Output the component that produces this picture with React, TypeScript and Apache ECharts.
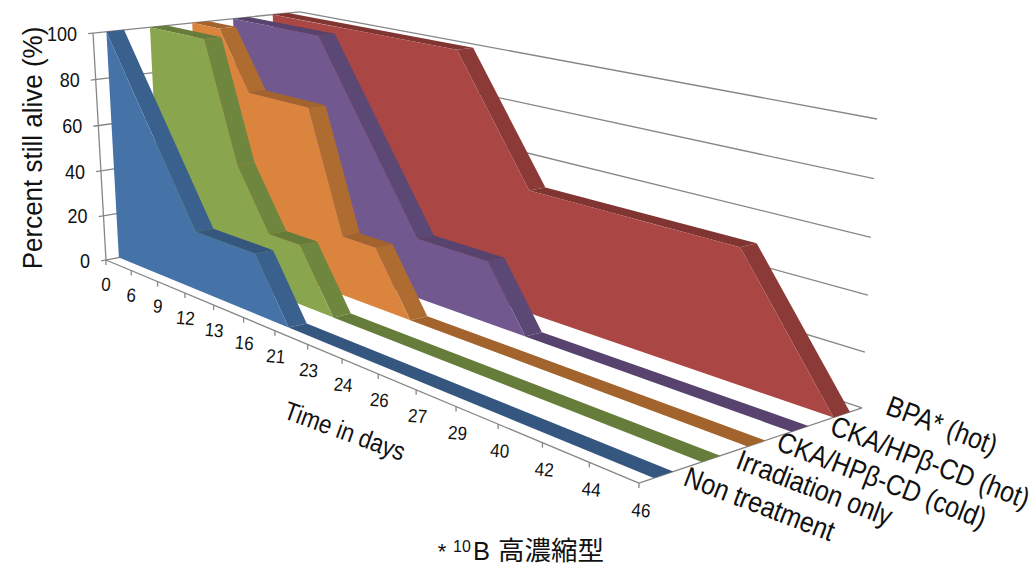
import React, { useEffect, useRef } from "react";
import * as echarts from "echarts";

const WIDTH = 1033;
const HEIGHT = 565;

const days = ["0", "6", "9", "12", "13", "16", "21", "23", "24", "26", "27", "29", "40", "42", "44", "46"];
const percentTicks = [0, 20, 40, 60, 80, 100];

const seriesNames = ["Non treatment", "Irradiation only", "CKA/HPβ-CD (cold)", "CKA/HPβ-CD (hot)", "BPA* (hot)"];
const nonTreatment = [100, 75, 50, 25, 25, 25, 0, 0, 0, 0, 0, 0, 0, 0, 0, 0];
const irradiationOnly = [100, 100, 100, 50, 25, 25, 0, 0, 0, 0, 0, 0, 0, 0, 0, 0];
const ckaCold = [100, 100, 75, 75, 75, 25, 25, 0, 0, 0, 0, 0, 0, 0, 0, 0];
const ckaHot = [100, 100, 100, 100, 75, 50, 25, 25, 25, 0, 0, 0, 0, 0, 0, 0];
const bpaHot = [100, 100, 100, 100, 100, 100, 100, 75, 50, 50, 50, 50, 50, 50, 25, 0];
const seriesValues = [nonTreatment, irradiationOnly, ckaCold, ckaHot, bpaHot];

// front face, sloping top face, level top face
const palette = [
  ["#4572A7", "#3A608D", "#34567F"],
  ["#89A54E", "#6F863F", "#667C3A"],
  ["#DB843D", "#AF6C31", "#A3632C"],
  ["#71588F", "#5C4875", "#57436D"],
  ["#AA4643", "#8C3A37", "#813532"],
];

const AXIS_COLOR = "#868686";
const TEXT_COLOR = "#111111";
const FONT = '"Liberation Sans", Arial, sans-serif';
const CJK_FONT = '"Liberation Sans", "Noto Sans CJK JP", sans-serif';

// Perspective camera: u runs along the days, v into the depth, w up the value axis, all 0..1.
function project(u: number, v: number, w: number): [number, number] {
  const d = 1 - 0.304 * u + 0.08 * v - 0.0314 * w;
  return [(106 + 338.7 * u + 224.2 * v - 15.9 * w) / d, (260 + 76.2 * u - 19.6 * v - 228 * w) / d];
}

// Turns a category index and a percentage into pixels via the hidden cartesian axes, then into depth space.
function place(api: any, k: number, value: number, v: number): [number, number] {
  const [px, py] = api.coord([k, value]);
  return project(px / WIDTH, v, 1 - py / HEIGHT);
}

function text(x: number, y: number, str: string, fontSize: number, deg = 0, align = "center", stretch = 1, family = FONT) {
  return {
    type: "text",
    x,
    y,
    scaleY: stretch,
    rotation: (deg * Math.PI) / 180,
    silent: true,
    style: { text: str, fontSize, fontFamily: family, fill: TEXT_COLOR, align, verticalAlign: "middle" },
  };
}

function segment(a: [number, number], b: [number, number]) {
  return {
    type: "line",
    silent: true,
    shape: { x1: a[0], y1: a[1], x2: b[0], y2: b[1] },
    style: { stroke: AXIS_COLOR, lineWidth: 1.3, fill: "none" },
  };
}

function renderFrame(params: any, api: any) {
  if (params.dataIndex !== 0) return null;
  const last = days.length - 1;
  const lines: any[] = [];
  percentTicks.forEach((t) => {
    lines.push(segment(place(api, 0, t, -0.022), place(api, 0, t, 1)));
    lines.push(segment(place(api, 0, t, 1), place(api, last, t, 1)));
  });
  lines.push(segment(place(api, 0, 0, 0), place(api, 0, 100, 0)));
  lines.push(segment(place(api, 0, 0, 0), place(api, last, 0, 0)));
  lines.push(segment(place(api, last, 0, 0), place(api, last, 0, 1)));
  days.forEach((_, k) => {
    const [x, y] = place(api, k, 0, 0);
    lines.push(segment([x, y], [x, y + 5]));
  });
  return { type: "group", children: lines };
}

function renderArea(index: number) {
  const values = seriesValues[index];
  const [front, slope, level] = palette[index];
  const vFront = (index + 0.3) / seriesValues.length;
  const vBack = (index + 0.7) / seriesValues.length;
  return (params: any, api: any) => {
    if (params.dataIndex !== 0) return null;
    const children: any[] = [];
    let start = 0;
    for (let k = 1; k < values.length; k++) {
      // runs with one gradient share a single top face
      const step = values[k] - values[k - 1];
      const next = k + 1 < values.length ? values[k + 1] - values[k] : NaN;
      if (step === next) continue;
      children.push({
        type: "polygon",
        silent: true,
        shape: {
          points: [
            place(api, start, values[start], vFront),
            place(api, start, values[start], vBack),
            place(api, k, values[k], vBack),
            place(api, k, values[k], vFront),
          ],
        },
        style: { fill: step === 0 ? level : slope },
      });
      start = k;
    }
    const outline = values.map((value, k) => place(api, k, value, vFront));
    outline.push(place(api, values.length - 1, 0, vFront), place(api, 0, 0, vFront));
    children.push({ type: "polygon", silent: true, shape: { points: outline }, style: { fill: front } });
    return { type: "group", children };
  };
}

function renderLabels(params: any, api: any) {
  if (params.dataIndex !== 0) return null;
  const last = days.length - 1;
  const out: any[] = [];
  percentTicks.forEach((t) => {
    const [x, y] = place(api, 0, t, 0);
    out.push(text(x - 16, y + 1, String(t), 18, 0, "right", 1.08));
  });
  days.forEach((day, k) => {
    const [x, y] = place(api, k, 0, 0);
    out.push(text(x + (2 * k) / last, y + 24.5 + (3 * k) / last, day, 17, -5, "center", 1.12));
  });
  const nudges = [
    [22, 1],
    [27, 0],
    [22, -3],
    [32, -4],
    [46, -10],
  ];
  seriesNames.forEach((name, i) => {
    const [x, y] = place(api, last, 0, (i + 0.5) / seriesNames.length);
    out.push(text(x + nudges[i][0], y + nudges[i][1], name, 25, -21, "left", 1.15));
  });
  out.push(text(33, 148, "Percent still alive (%)", 26, 90, "center", 1.08));
  out.push(text(345, 431, "Time in days", 22.5, -20, "center", 1.15));
  out.push(text(442, 551, "*", 22));
  out.push(text(462, 546, "10", 16));
  out.push(text(473, 551, "B", 25.5, 0, "left", 1, CJK_FONT));
  out.push(text(498, 551, "高濃縮型", 26.5, 0, "left", 1, CJK_FONT));
  return { type: "group", children: out };
}

export default function App() {
  const ref = useRef<HTMLDivElement>(null);
  useEffect(() => {
    const chart = echarts.init(ref.current!, null, { renderer: "svg" });
    const pairs = (values: number[]) => values.map((value, k) => [k, value]);
    const areaSeries = seriesValues
      .map((values, i) => ({
        type: "custom",
        name: seriesNames[i],
        silent: true,
        clip: false,
        renderItem: renderArea(i),
        data: pairs(values),
      }))
      .reverse();
    chart.setOption({
      animation: false,
      backgroundColor: "#ffffff",
      tooltip: { show: false },
      legend: { show: false },
      grid: { left: 0, top: 0, width: WIDTH, height: HEIGHT },
      xAxis: { type: "category", show: false, boundaryGap: false, data: days },
      yAxis: { type: "value", show: false, min: 0, max: 100, interval: 20 },
      series: [
        { type: "custom", silent: true, clip: false, renderItem: renderFrame, data: pairs(bpaHot) },
        ...areaSeries,
        { type: "custom", silent: true, clip: false, renderItem: renderLabels, data: pairs(bpaHot) },
      ],
    });
    return () => chart.dispose();
  }, []);
  return (
    <div style={{ position: "fixed", left: 0, top: 0, width: WIDTH, height: HEIGHT, overflow: "hidden" }}>
      <div ref={ref} style={{ width: WIDTH, height: HEIGHT }} />
    </div>
  );
}
